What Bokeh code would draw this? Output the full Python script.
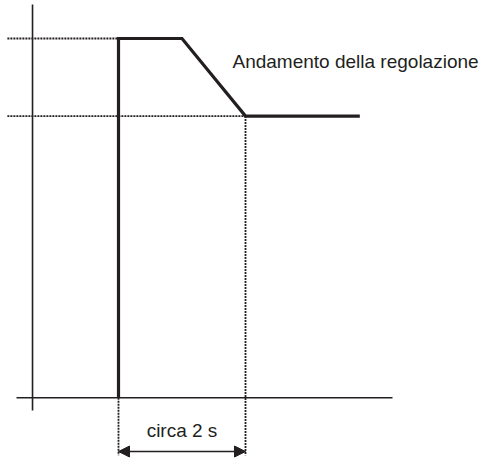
from bokeh.plotting import figure
from bokeh.models import Range1d, Arrow, NormalHead
from bokeh.core.properties import value
from bokeh.embed import file_html
from bokeh.resources import INLINE

# Schematic data: time in seconds, level as fraction of the peak
t_signal = [0.0, 0.0, 1.0, 2.0, 3.8]
v_signal = [0.0, 1.0, 1.0, 0.784, 0.784]

peak_level = 1.0
settled_level = 0.784
t_step = 0.0
t_settle = 2.0

# Axis extents (schematic)
t_axis_origin = -1.354
t_axis_left = -1.606
t_axis_right = 4.315
v_axis_top = 1.095
v_axis_bottom = -0.035
t_guide_left = -1.75
v_guide_bottom = -0.16
v_arrow = -0.1495

label_duration = "circa 2 s"
label_curve = "Andamento della regolazione"
t_label_curve = 1.795
v_label_curve = 0.936
v_label_duration = -0.091

INK = "#231f20"

p = figure(width=483, height=458, output_backend="svg", toolbar_location=None,
           x_range=Range1d(-1.8583, 5.748), y_range=Range1d(-0.1689, 1.1058),
           min_border=0, outline_line_color=None)
p.axis.visible = False
p.grid.visible = False
p.background_fill_color = "white"
p.border_fill_color = "white"

# dotted guides
p.segment(x0=[t_guide_left, t_guide_left], y0=[peak_level, settled_level],
          x1=[t_step, t_settle], y1=[peak_level, settled_level],
          line_color=INK, line_width=1.8, line_dash="2 1")
p.segment(x0=[t_step, t_settle], y0=[0.0, settled_level],
          x1=[t_step, t_settle], y1=[v_guide_bottom, v_guide_bottom],
          line_color=INK, line_width=1.8, line_dash="2 1")

# axes
p.segment(x0=[t_axis_origin, t_axis_left], y0=[v_axis_bottom, 0.0],
          x1=[t_axis_origin, t_axis_right], y1=[v_axis_top, 0.0],
          line_color=INK, line_width=1.6)

# signal
p.line(t_signal, v_signal, line_color=INK, line_width=3.2, line_join="miter")

# duration arrow
p.add_layout(Arrow(x_start=t_step, y_start=v_arrow, x_end=t_settle, y_end=v_arrow,
                   line_color=INK, line_width=1.6,
                   start=NormalHead(size=11, fill_color=INK, line_color=INK),
                   end=NormalHead(size=11, fill_color=INK, line_color=INK)))

p.text(x=[(t_step + t_settle) / 2], y=[v_label_duration], text=[label_duration],
       text_font=value("Liberation Sans"), text_font_size="19px",
       text_align="center", text_baseline="middle", text_color=INK)
p.text(x=[t_label_curve], y=[v_label_curve], text=[label_curve],
       text_font=value("Liberation Sans"), text_font_size="19px",
       text_align="left", text_baseline="alphabetic", text_color=INK)

open("out.html", "w").write(file_html(p, INLINE))
